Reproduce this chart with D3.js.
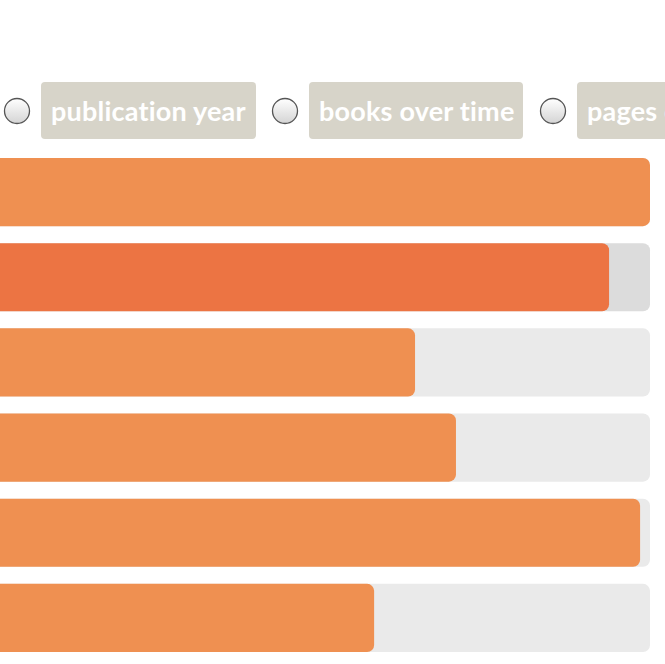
<!DOCTYPE html>
<html>
<head>
<meta charset="utf-8">
<script src="https://cdn.jsdelivr.net/npm/d3@7"></script>
<style>
  body { margin: 0; background: #fff; overflow: hidden; }
  svg { display: block; }
</style>
</head>
<body>
<div id="chart"></div>
<script>
// options shown as radio buttons
var options = ["publication year", "books over time", "pages over time"];
// bar categories and values (share of the full track, %)
var categories = ["a", "b", "c", "d", "e", "f"];
var values = [100, 93.8, 64.4, 70.6, 98.5, 58.2];
var highlighted = "b";

var width = 665, height = 664;

var svg = d3.select("#chart")
  .append("svg")
    .attr("width", width)
    .attr("height", height);

var defs = svg.append("defs");
var grad = defs.append("linearGradient")
    .attr("id", "radioGrad")
    .attr("x1", 0).attr("y1", 0).attr("x2", 0).attr("y2", 1);
grad.append("stop").attr("offset", "0%").attr("stop-color", "#ffffff");
grad.append("stop").attr("offset", "100%").attr("stop-color", "#d4d4d4");

// radio buttons row
var btnX = [41, 309, 577];
var btnW = [215, 214, 220];
var btn = svg.selectAll(".opt")
  .data(options)
  .enter().append("g")
    .attr("class", "opt")
    .attr("transform", function(d, i) { return "translate(" + btnX[i] + ",82)"; });

btn.append("circle")
    .attr("cx", -24)
    .attr("cy", 29)
    .attr("r", 12.5)
    .attr("fill", "url(#radioGrad)")
    .attr("stroke", "#555")
    .attr("stroke-width", 1.3);

btn.append("rect")
    .attr("width", function(d, i) { return btnW[i]; })
    .attr("height", 57)
    .attr("rx", 4)
    .attr("fill", "#d7d4c9");

btn.append("text")
    .attr("x", 10)
    .attr("y", 39)
    .attr("fill", "#ffffff")
    .style("font-family", "Lato, sans-serif")
    .style("font-weight", "bold")
    .style("font-size", "27px")
    .style("letter-spacing", "0.2px")
    .text(function(d) { return d; });

// scales
var x = d3.scaleLinear().domain([0, 100]).range([-10, 650]);
var y = d3.scaleBand().domain(categories).range([158, 652]).paddingInner(0.2).paddingOuter(0);

var rows = svg.selectAll(".row")
  .data(categories)
  .enter().append("g")
    .attr("class", "row");

// background track
rows.append("rect")
    .attr("x", x(0))
    .attr("y", function(d) { return y(d); })
    .attr("width", x(100) - x(0))
    .attr("height", y.bandwidth())
    .attr("rx", 7)
    .attr("fill", function(d) { return d === highlighted ? "#dcdcdc" : "#eaeaea"; });

// value bar
rows.append("rect")
    .attr("x", x(0))
    .attr("y", function(d) { return y(d); })
    .attr("width", function(d, i) { return x(values[i]) - x(0); })
    .attr("height", y.bandwidth())
    .attr("rx", 7)
    .attr("fill", function(d) { return d === highlighted ? "#ec7443" : "#ef9051"; });
</script>
</body>
</html>
